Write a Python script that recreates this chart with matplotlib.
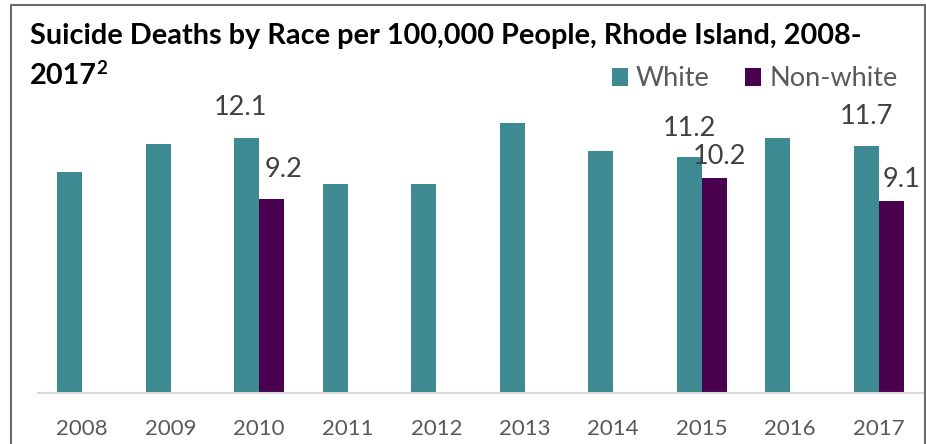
import numpy as np
import matplotlib.pyplot as plt
from matplotlib.patches import Rectangle

plt.rcParams['font.family'] = ['Lato', 'DejaVu Sans']

years = ['2008', '2009', '2010', '2011', '2012', '2013', '2014', '2015', '2016', '2017']
white = [10.5, 11.8, 12.1, 9.9, 9.9, 12.8, 11.5, 11.2, 12.1, 11.7]
nonwhite = [np.nan, np.nan, 9.2, np.nan, np.nan, np.nan, np.nan, 10.2, np.nan, 9.1]

teal = '#3e8a92'
purple = '#48004f'
gray = '#595959'

fig = plt.figure(figsize=(9.26, 4.44), dpi=100)
ax = fig.add_axes([38 / 926, 51 / 444, 885 / 926, 295 / 444])

x = np.arange(len(years))
w = 0.2825
b1 = ax.bar(x - w / 2, white, w, color=teal, label='White')
nw = np.array(nonwhite)
mask = ~np.isnan(nw)
b2 = ax.bar(x[mask] + w / 2, nw[mask], w, color=purple, label='Non-white')

ax.set_xlim(-0.5, len(years) - 0.5)
ax.set_ylim(0, 14)
ax.set_xticks(x, years)
ax.set_yticks([])
ax.tick_params(axis='x', length=0, pad=19, labelsize=16, labelcolor=gray)
for s in ['top', 'right', 'left']:
    ax.spines[s].set_visible(False)
ax.spines['bottom'].set_color('#d9d9d9')
ax.spines['bottom'].set_linewidth(1.5)

# hand-placed value labels (pixel offsets from bar top centre)
white_lbl = {2: (-6, 31), 7: (0, 29), 9: (0, 30)}
non_lbl = {2: (12, 30), 7: (5, 22), 9: (10, 22)}
for i, (dx, dy) in white_lbl.items():
    ax.annotate(f'{white[i]:.1f}', (x[i] - w / 2, white[i]), xytext=(dx, dy),
                textcoords='offset pixels', ha='center', va='center',
                fontsize=19.5, color='#404040')
for i, (dx, dy) in non_lbl.items():
    ax.annotate(f'{nonwhite[i]:.1f}', (x[i] + w / 2, nonwhite[i]), xytext=(dx, dy),
                textcoords='offset pixels', ha='center', va='center',
                fontsize=19.5, color='#404040')

t1 = fig.text(30 / 926, 1 - 36 / 444, 'Suicide Deaths by Race per 100,000 People, Rhode Island, 2008-',
              fontsize=20.8, fontweight='bold', va='center', ha='left')
t2 = fig.text(30 / 926, 1 - 76 / 444, '2017', fontsize=20.8, fontweight='bold', va='center', ha='left')
ax.annotate('2', xy=(0.99, 0.78), xycoords=t2, fontsize=13.5, fontweight='bold', va='center', ha='left')

leg = fig.legend(handles=[b1, b2], loc='center right', bbox_to_anchor=(922 / 926, 1 - 79 / 444),
                 ncol=2, frameon=False, fontsize=19.5, handlelength=0.6, handleheight=0.6,
                 handletextpad=0.3, columnspacing=1.3, labelcolor=gray)

fig.add_artist(Rectangle((10.5 / 926, -0.1), (925 - 10.5) / 926, 1.1 - 5.5 / 444,
                         transform=fig.transFigure, fill=False, edgecolor='#6b6b6b',
                         linewidth=1.5, clip_on=False))

fig.savefig('out.png', dpi=100)
